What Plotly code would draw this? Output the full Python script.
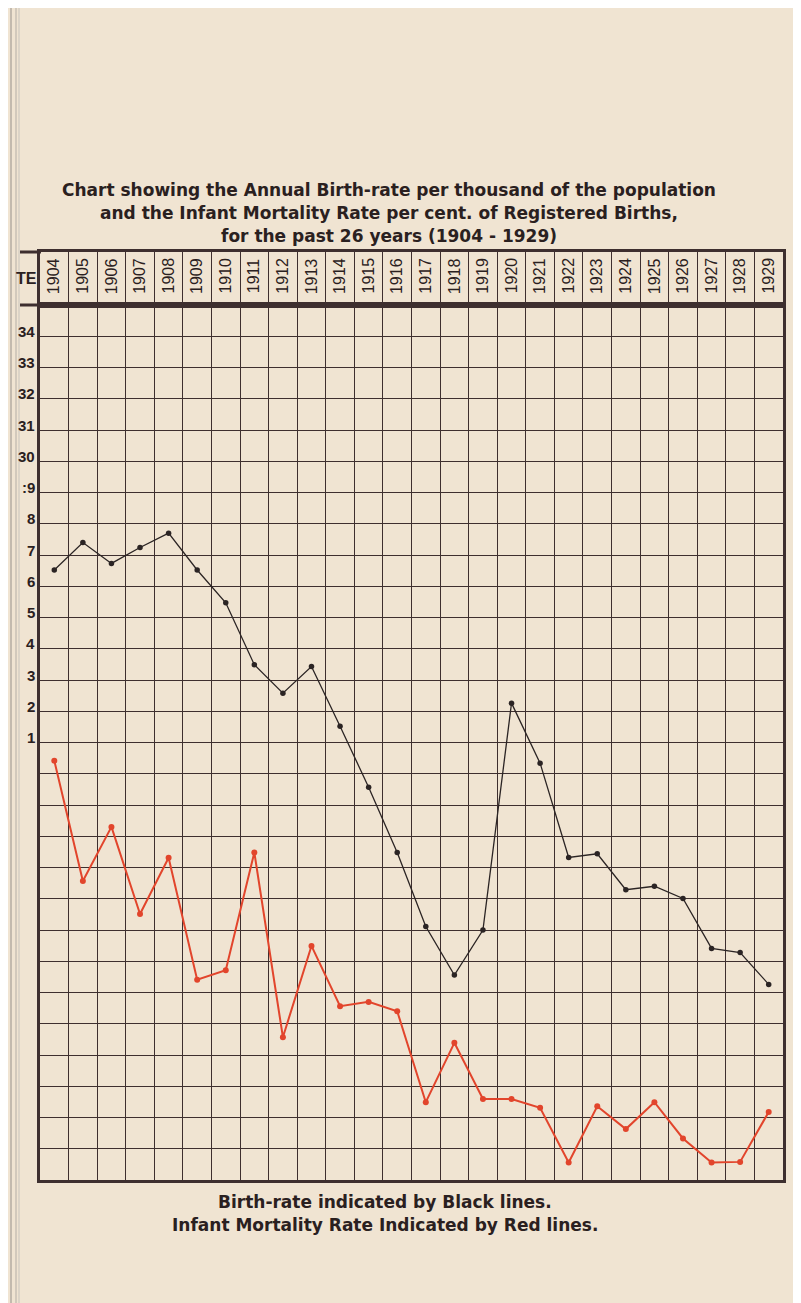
import plotly.graph_objects as go

# ---------------- data ----------------
years = list(range(1904, 1930))
year_labels = [str(y) for y in years]
birth_rate = [26.52, 27.40, 26.73, 27.24, 27.70, 26.52, 25.47, 23.49, 22.58, 23.43,
              21.52, 19.57, 17.48, 15.11, 13.56, 15.00, 22.26, 20.34, 17.32, 17.44,
              16.29, 16.40, 16.01, 14.41, 14.28, 13.26]
infant_mortality = [20.42, 16.57, 18.30, 15.51, 17.31, 13.41, 13.71, 17.48, 11.57, 14.49,
                    12.56, 12.70, 12.40, 9.49, 11.39, 9.59, 9.59, 9.31, 7.56, 9.36,
                    8.63, 9.49, 8.33, 7.56, 7.58, 9.18]
scale_values = [34, 33, 32, 31, 30, 29, 28, 27, 26, 25, 24, 23, 22, 21]
scale_texts = ["34", "33", "32", "31", "30", ":9", "8", "7", "6", "5", "4", "3", "2", "1"]
header_text = "TE"
title_lines = [
    "Chart showing the Annual Birth-rate per thousand of the population",
    "and the Infant Mortality Rate per cent. of Registered Births,",
    "for the past 26 years (1904 - 1929)",
]
note_lines = [
    "Birth-rate indicated by Black lines.",
    "Infant Mortality Rate Indicated by Red lines.",
]

# ---------------- styling ----------------
W, H = 801, 1303
PAPER = "#f0e4d2"
INK = "#3e2f2f"
TEXT = "#2a2020"
RED = "#e2452c"
BLACK = "#2b2424"

def px(x):
    return x / W

def py(y):
    return 1 - y / H

x_dom = [px(32), px(775)]
main_dom = [py(1172), py(297)]
head_dom = [py(297), py(244)]

fig = go.Figure()

fig.add_trace(go.Scatter(
    x=years, y=birth_rate, mode="lines+markers",
    line=dict(color=BLACK, width=1.3),
    marker=dict(color=BLACK, size=5.5),
    xaxis="x", yaxis="y", showlegend=False, hoverinfo="skip"))
fig.add_trace(go.Scatter(
    x=years, y=infant_mortality, mode="lines+markers",
    line=dict(color=RED, width=2),
    marker=dict(color=RED, size=6),
    xaxis="x", yaxis="y", showlegend=False, hoverinfo="skip"))

grid_common = dict(showgrid=True, gridcolor=INK, gridwidth=1.4, zeroline=False,
                   showticklabels=False, ticks="", showline=True, linecolor=INK,
                   linewidth=3, mirror=True, fixedrange=True)

fig.update_layout(
    width=W, height=H,
    margin=dict(l=0, r=0, t=0, b=0),
    paper_bgcolor=PAPER, plot_bgcolor=PAPER,
    showlegend=False,
    xaxis=dict(domain=x_dom, range=[1903.5, 1929.5], tickmode="linear",
               tick0=1903.5, dtick=1, anchor="y", **grid_common),
    yaxis=dict(domain=main_dom, range=[7, 35], tickmode="linear",
               tick0=7, dtick=1, anchor="x", **grid_common),
    xaxis2=dict(domain=x_dom, range=[1903.5, 1929.5], tickmode="linear",
                tick0=1903.5, dtick=1, anchor="y2", **grid_common),
    yaxis2=dict(domain=head_dom, range=[0, 1], anchor="x2",
                **{**grid_common, "showgrid": False}),
)

ann = []
# year labels in header
for yr, lab in zip(years, year_labels):
    ann.append(dict(x=yr, y=0.55, xref="x2", yref="y2", text=lab, textangle=-90,
                    showarrow=False, font=dict(family="Liberation Sans", size=16, color=TEXT)))
# scale labels
for v, t in zip(scale_values, scale_texts):
    ann.append(dict(x=px(29), y=v, xref="paper", yref="y", text="<b>" + t + "</b>",
                    xanchor="right", yanchor="middle", yshift=5, showarrow=False,
                    font=dict(family="Liberation Sans", size=15, color=TEXT)))
ann.append(dict(x=px(31), y=0.5, xref="paper", yref="y2", text="<b>" + header_text + "</b>",
                xanchor="right", showarrow=False,
                font=dict(family="Liberation Sans", size=16, color=TEXT)))
# title
for i, line in enumerate(title_lines):
    ann.append(dict(x=px(381), y=py(170 + 23 * i), xref="paper", yref="paper",
                    text="<b>" + line + "</b>", showarrow=False,
                    font=dict(family="DejaVu Sans", size=17, color=TEXT)))
for i, line in enumerate(note_lines):
    ann.append(dict(x=px(377), y=py(1206 + 23 * i), xref="paper", yref="paper",
                    text="<b>" + line + "</b>", showarrow=False,
                    font=dict(family="DejaVu Sans", size=17, color=TEXT)))
fig.update_layout(annotations=ann)

# header border lines extending over the label cell
for yb in (244, 297):
    fig.add_shape(type="line", xref="paper", yref="paper", x0=px(12), x1=px(33),
                  y0=py(yb), y1=py(yb), line=dict(color=INK, width=3))
# page edge artifacts on the left
for xe, c in [(3, "#b5ada2"), (8, "#c9c1b5"), (11, "#d6cfc3")]:
    fig.add_shape(type="line", xref="paper", yref="paper", x0=px(xe), x1=px(xe),
                  y0=0, y1=1, line=dict(color=c, width=1.5))

fig.write_html("out.html")
